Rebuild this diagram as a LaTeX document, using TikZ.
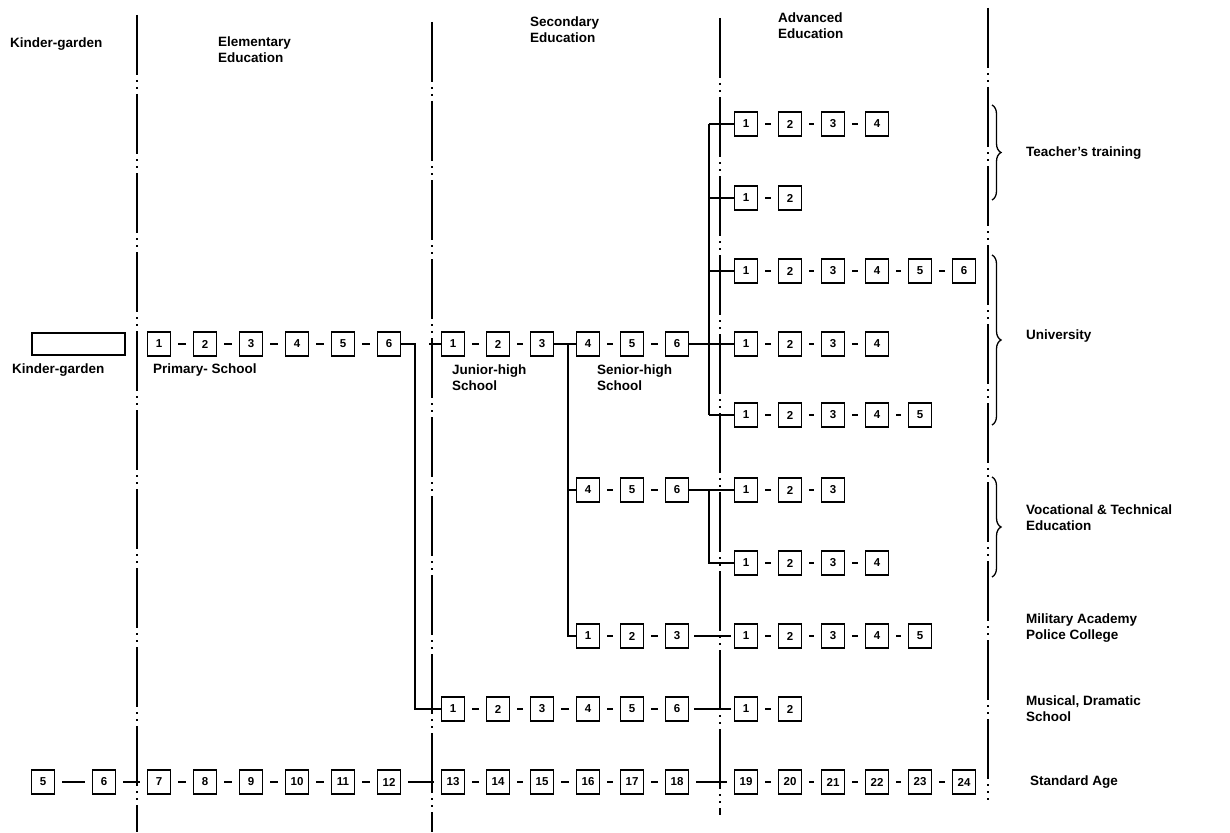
\documentclass[tikz,border=0pt]{standalone}
\usepackage{fontspec}
\setmainfont{Liberation Sans}
\usetikzlibrary{decorations.pathreplacing,calc}
\begin{document}
\begin{tikzpicture}[x=1pt,y=-1pt,
  yr/.style={draw, line width=1.1pt, minimum width=23pt, minimum height=24pt, inner sep=0pt, font=\fontsize{11.5}{12}\selectfont\bfseries},
  lnk/.style={line width=1.1pt, shorten <=7pt, shorten >=7pt},
  wire/.style={line width=1.3pt},
  sep/.style={line width=1.3pt, dash pattern=on 60pt off 5pt on 2pt off 5pt on 2pt off 5pt},
  lbl/.style={font=\fontsize{13.5}{16}\selectfont\bfseries, align=left, anchor=west, inner sep=0pt},
  brc/.style={decorate, decoration={brace, amplitude=9pt}, line width=1.3pt}
]
\useasboundingbox (0,0) rectangle (1230,832);
% separators
\coordinate (L1t) at (137,15);  \coordinate (L1b) at (137,832);
\coordinate (L2t) at (432,22);  \coordinate (L2b) at (432,832);
\coordinate (L3t) at (720,18);  \coordinate (L3b) at (720,815);
\coordinate (L4t) at (988,8);   \coordinate (L4b) at (988,800);
\draw[sep] (L1t) -- (L1b);
\draw[sep] (L2t) -- (L2b);
\draw[sep] (L3t) -- (L3b);
\draw[sep] (L4t) -- (L4b);
% headers
\node[lbl] (hk) at (10,44) {Kinder-garden};
\node[lbl] (he) at (218,50) {Elementary\\Education};
\node[lbl] (hs) at (530,30) {Secondary\\Education};
\node[lbl] (ha) at (778,26) {Advanced\\Education};
% advanced rows
\foreach \i/\x in {1/746,2/790,3/833,4/877} \node[yr] (ta\i) at (\x,124) {\i};
\foreach \i/\x in {1/746,2/790} \node[yr] (tb\i) at (\x,198) {\i};
\foreach \i/\x in {1/746,2/790,3/833,4/877,5/920,6/964} \node[yr] (ua\i) at (\x,271) {\i};
\foreach \i/\x in {1/746,2/790,3/833,4/877} \node[yr] (ub\i) at (\x,344) {\i};
\foreach \i/\x in {1/746,2/790,3/833,4/877,5/920} \node[yr] (uc\i) at (\x,415) {\i};
\foreach \i/\x in {1/746,2/790,3/833} \node[yr] (va\i) at (\x,490) {\i};
\foreach \i/\x in {1/746,2/790,3/833,4/877} \node[yr] (vb\i) at (\x,563) {\i};
\foreach \i/\x in {1/746,2/790,3/833,4/877,5/920} \node[yr] (ka\i) at (\x,636) {\i};
\foreach \i/\x in {1/746,2/790} \node[yr] (ma\i) at (\x,709) {\i};
\foreach \i/\x in {19/746,20/790,21/833,22/877,23/920,24/964} \node[yr] (st\i) at (\x,782) {\i};
% secondary rows
\foreach \i/\x in {1/453,2/498,3/542,4/588,5/632,6/677} \node[yr] (s\i) at (\x,344) {\i};
\foreach \i/\x in {4/588,5/632,6/677} \node[yr] (v\i) at (\x,490) {\i};
\foreach \i/\x in {1/588,2/632,3/677} \node[yr] (k\i) at (\x,636) {\i};
\foreach \i/\x in {1/453,2/498,3/542,4/588,5/632,6/677} \node[yr] (m\i) at (\x,709) {\i};
\foreach \i/\x in {13/453,14/498,15/542,16/588,17/632,18/677} \node[yr] (st\i) at (\x,782) {\i};
% elementary rows
\foreach \i/\x in {1/159,2/205,3/251,4/297,5/343,6/389} \node[yr] (p\i) at (\x,344) {\i};
\foreach \i/\x in {7/159,8/205,9/251,10/297,11/343,12/389} \node[yr] (st\i) at (\x,782) {\i};
% kinder
\node[draw, line width=1.1pt, minimum width=93pt, minimum height=22pt, inner sep=0pt] (kg) at (78.5,344) {};
\foreach \i/\x in {5/43,6/104} \node[yr] (st\i) at (\x,782) {\i};
% in-row links
\foreach \r/\n in {ta/4,ua/6,ub/4,uc/5,va/3,vb/4,ka/5,p/6,s/6,m/6}{
  \foreach \i [count=\j from 2] in {1,...,5}{
    \ifnum\j>\n\else \draw[lnk] (\r\i) -- (\r\j);\fi
  }
}
\draw[lnk] (tb1) -- (tb2);
\draw[lnk] (ma1) -- (ma2);
\draw[lnk] (v4) -- (v5); \draw[lnk] (v5) -- (v6);
\draw[lnk] (k1) -- (k2); \draw[lnk] (k2) -- (k3);
\foreach \i [count=\j from 6] in {5,...,23} \draw[lnk] (st\i) -- (st\j);
% primary -> junior high / musical
\coordinate (j1) at (415,344);
\draw[wire] (p6.east) -- (j1) -- (j1 |- m1) -- (m1.west);
\draw[wire, shorten <=14pt] (j1) -- (s1.west);
% junior high -> senior high / vocational / military
\coordinate (j2) at (568,344);
\draw[wire] (s3.east) -- (j2) -- (j2 |- k1) -- (k1.west);
\draw[wire] (j2) -- (s4.west);
\draw[wire] (j2 |- v4) -- (v4.west);
% senior high -> advanced (teacher, university)
\coordinate (bt) at (709,124);
\coordinate (bb) at (709,415);
\draw[wire] (bt) -- (bb);
\draw[wire] (s6.east) -- (bt |- s6);
\foreach \n in {ta1,tb1,ua1,ub1,uc1} \draw[wire] (bt |- \n) -- (\n.west);
% vocational branch
\coordinate (bv) at (709,490);
\draw[wire] (v6.east) -- (bv) -- (bv |- vb1) -- (vb1.west);
\draw[wire] (bv) -- (va1.west);
% military, musical
\draw[wire, shorten <=5pt, shorten >=3pt] (k3.east) -- (ka1.west);
\draw[wire, shorten <=5pt, shorten >=3pt] (m6.east) -- (ma1.west);
% braces
\coordinate (bta) at (992,105); \coordinate (btb) at (992,200);
\coordinate (bua) at (992,255); \coordinate (bub) at (992,425);
\coordinate (bva) at (992,477); \coordinate (bvb) at (992,577);
\draw[brc] (bta) -- (btb);
\draw[brc] (bua) -- (bub);
\draw[brc] (bva) -- (bvb);
% labels
\node[lbl] (lk) at (12,370) {Kinder-garden};
\node[lbl] (lp) at (153,370) {Primary- School};
\node[lbl] (lj) at (452,378) {Junior-high\\School};
\node[lbl] (ls) at (597,378) {Senior-high\\School};
\node[lbl] (rt) at (1026,153) {Teacher's training};
\node[lbl] (ru) at (1026,336) {University};
\node[lbl] (rv) at (1026,518) {Vocational \& Technical\\Education};
\node[lbl] (rm) at (1026,628) {Military Academy\\Police College};
\node[lbl] (rd) at (1026,709) {Musical, Dramatic\\School};
\node[lbl] (rs) at (1030,782) {Standard Age};
\end{tikzpicture}
\end{document}
